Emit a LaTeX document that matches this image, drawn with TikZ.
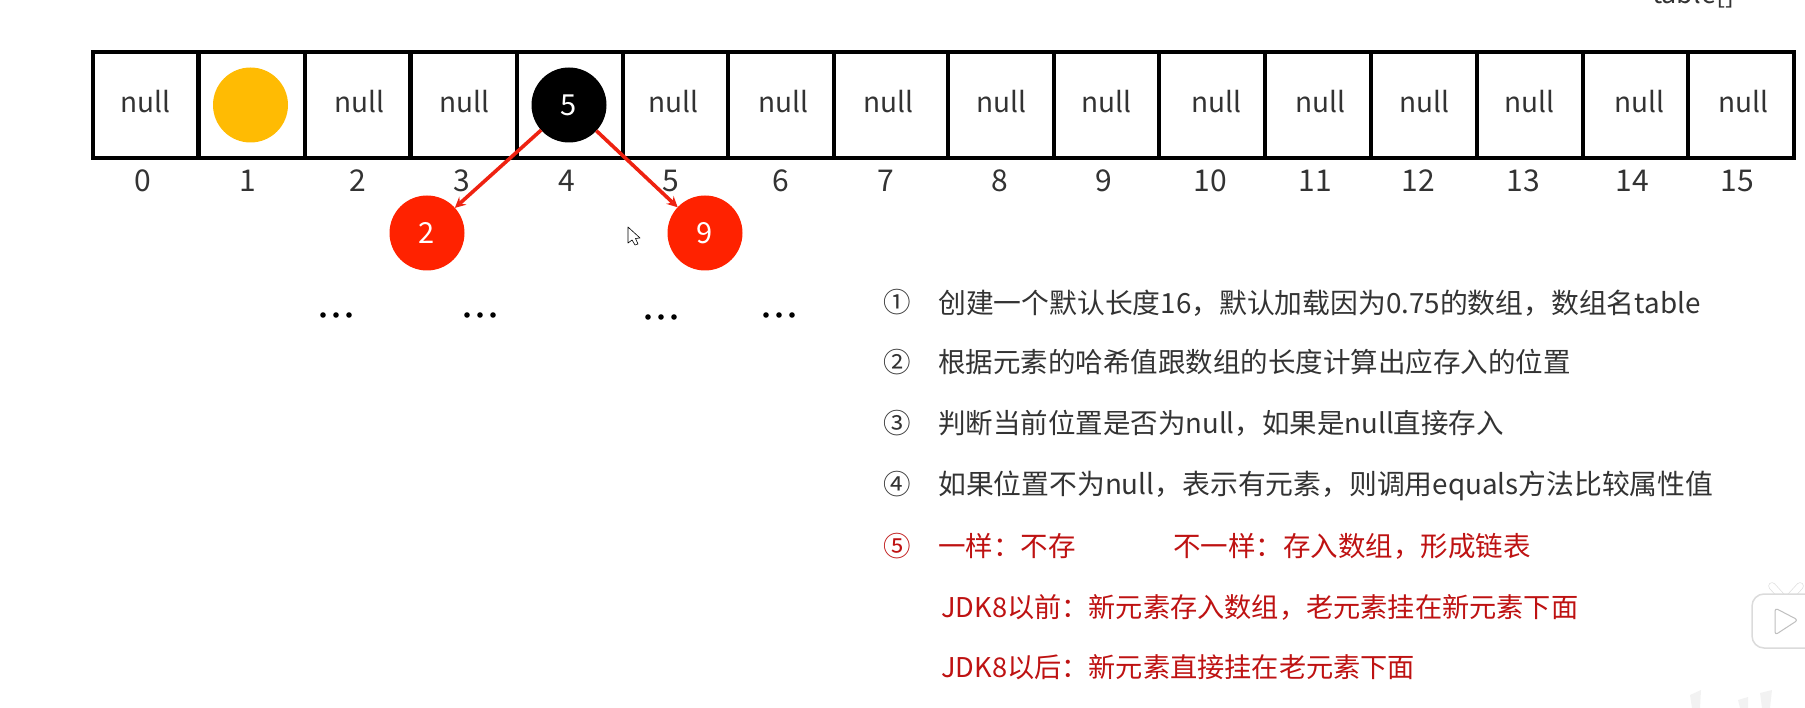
\documentclass[tikz,border=0pt]{standalone}
\usepackage{fontspec}
\setmainfont{Noto Sans CJK SC}
\tikzset{
	tabline/.style={line width=4.5pt, line cap=rect, line join=miter},
	nulltxt/.style={anchor=base, inner sep=0, text=black!80, font=\fontsize{28}{28}\selectfont},
	idxtxt/.style={anchor=base, inner sep=0, text=black!80, font=\fontsize{30}{30}\selectfont},
	ball/.style={circle, minimum size=75pt, inner sep=0, outer sep=0, text=white, font=\fontsize{29}{29}\selectfont},
	redarrow/.style={->, >=stealth, line width=3.6pt, draw=arrowred},
	rowtxt/.style={anchor=base west, inner sep=0, text=black!80, font=\fontsize{27.5}{27.5}\selectfont},
	rowwide/.style={rowtxt, font=\fontsize{27.8}{27.8}\selectfont},
	rowred/.style={rowtxt, text=textred},
	rowjdk/.style={rowred, font=\fontsize{27.2}{27.2}\selectfont},
	markgray/.style={fill=black!5, draw=none}
}
\definecolor{ballorange}{HTML}{FFBB03}
\definecolor{ballred}{HTML}{FF2200}
\definecolor{arrowred}{HTML}{EE2211}
\definecolor{textred}{HTML}{BE1212}
\begin{document}
\begin{tikzpicture}[x=1pt, y=-1pt]
	\def\ytop{52} \def\ybot{158} \def\ynull{113} \def\yidx{191.5};
	\useasboundingbox (0,0) rectangle (1805,708);
	\clip (0,0) rectangle (1805,708);
	\node[rowtxt, font=\fontsize{27}{27}\selectfont, text=black!80] (tablename) at (1652,3.5) {table[]};
	\draw[tabline] (93,\ytop) rectangle (1794,\ybot);
	\foreach \x in {198.5,305,410.5,517,623,728,834,948,1054,1159,1265,1371,1477,1583,1688}
		\draw[tabline] (\x,\ytop)--(\x,\ybot);
	\foreach \x/\i in {145/0,359/2,464/3,673/5,783/6,888/7,1001/8,1106/9,1216/10,1320/11,1424/12,1529/13,1639/14,1743/15}
		\node[nulltxt] (null\i) at (\x,\ynull) {null};
	\foreach \x/\i in {143/0,248/1,358/2,462/3,567/4,671/5,781/6,886/7,1000/8,1104/9,1210/10,1315/11,1418/12,1523/13,1632/14,1737/15}
		\node[idxtxt] (idx\i) at (\x,\yidx) {\i};
	\node[ball, fill=ballorange] (one) at (250.5,105) {};
	\node[ball, fill=black] (five) at (569,105) {5};
	\node[ball, fill=ballred] (two) at (427,233) {2};
	\node[ball, fill=ballred] (nine) at (705,233) {9};
	\draw[redarrow] (five)--(two);
	\draw[redarrow] (five)--(nine);
	\foreach \x/\y in {336/315,480/315,661/317,779/315}
		\foreach \d in {-13,0,13}
			\fill (\x+\d,\y) circle (2.8);
	\draw[black, fill=white, line width=0.6pt, line join=round] (628,227)--(628,243)--(632,240)--(635,245)--(638,244)--(635.5,238.5)--(640,238)--cycle;
	\node[rowtxt, anchor=base] (numa) at (897,313) {①};
	\node[rowtxt, anchor=base] (numb) at (897,373) {②};
	\node[rowtxt, anchor=base] (numc) at (897,434) {③};
	\node[rowtxt, anchor=base] (numd) at (897,494) {④};
	\node[rowred, anchor=base] (nume) at (897,556) {⑤};
	\node[rowwide] (rowa) at (938,314) {创建一个默认长度16，默认加载因为0.75的数组，数组名table};
	\node[rowtxt] (rowb) at (938,373) {根据元素的哈希值跟数组的长度计算出应存入的位置};
	\node[rowtxt] (rowc) at (938,434) {判断当前位置是否为null，如果是null直接存入};
	\node[rowwide] (rowd) at (938,494) {如果位置不为null，表示有元素，则调用equals方法比较属性值};
	\node[rowred] (rowe) at (938,556) {一样：不存};
	\node[rowred] (rowf) at (1173,556) {不一样：存入数组，形成链表};
	\node[rowjdk] (rowg) at (941,617) {JDK8以前：新元素存入数组，老元素挂在新元素下面};
	\node[rowjdk] (rowh) at (941,677) {JDK8以后：新元素直接挂在老元素下面};
	\draw[black!12, line width=7.5pt, line cap=round] (1772,586)--(1782,597) (1800,586)--(1790,597);
	\draw[white, line width=6pt, line cap=round] (1772,586)--(1782,597) (1800,586)--(1790,597);
	\draw[fill=white, draw=black!14, line width=1.5pt, rounded corners=12pt] (1752,594) rectangle (1825,648);
	\draw[fill=white, draw=black!25, line width=1pt, line join=round, rounded corners=3pt] (1775,608)--(1798,620)--(1775,635)--cycle;
	\fill[markgray] (1690,695)--(1701,690)--(1700,708)--(1692,708)--cycle;
	\fill[markgray] (1738,700)--(1748,697)--(1748,708)--(1740,708)--cycle;
	\fill[markgray] (1760,693)--(1772,690)--(1770,708)--(1762,708)--cycle;
\end{tikzpicture}
\end{document}
